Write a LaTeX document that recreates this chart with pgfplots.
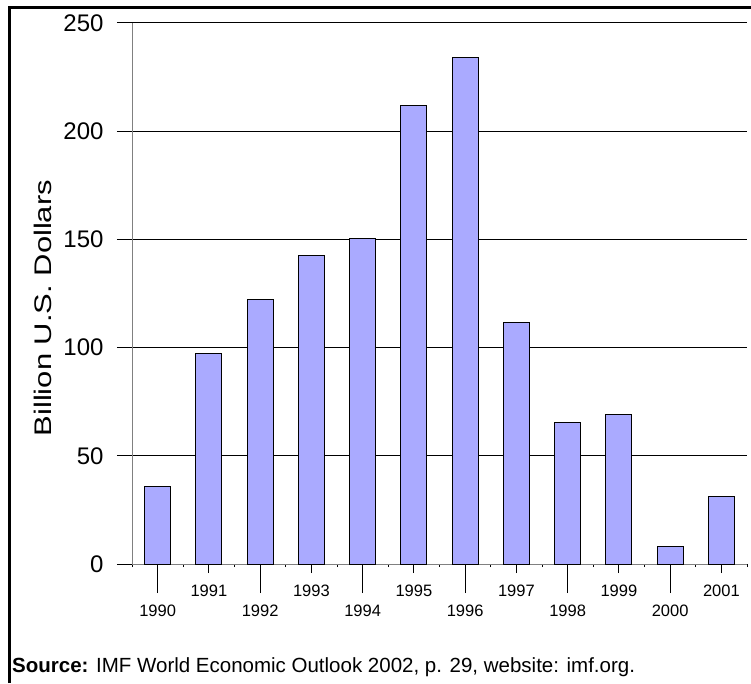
\documentclass[border=0pt]{standalone}
\usepackage{fontspec}
\setmainfont{Liberation Sans}
\usepackage{graphicx}
\usepackage{pgfplots}
\pgfplotsset{compat=1.18}
\definecolor{barblue}{HTML}{AAAAFF}
\definecolor{axgray}{HTML}{808080}
\begin{document}
\begin{tikzpicture}[x=1pt,y=1pt]
\useasboundingbox (0,0) rectangle (751,683);
\draw[line width=3pt] (9.5,0) -- (9.5,675.5) -- (751,675.5);
\begin{axis}[at={(132pt,119pt)}, anchor=south west, scale only axis,
  width=615pt, height=541pt,
  xmin=-0.5, xmax=11.5, ymin=0, ymax=250,
  /pgf/number format/assume math mode=true,
  axis x line*=bottom, axis y line*=left,
  axis line style={-, draw=axgray, line width=1pt},
  ytick={0,50,...,250},
  ymajorgrids, grid style={black, line width=1pt},
  tick align=outside,
  tick style={black, line width=1pt},
  major tick length=15pt,
  yticklabel style={font=\fontsize{24}{28}\selectfont, xshift=-10pt},
  xtick={0,2,4,6,8,10},
  xticklabels={1990,1992,1994,1996,1998,2000},
  xtick style={/pgfplots/major tick length=29pt},
  xticklabel style={font=\fontsize{16.5}{19}\selectfont, anchor=base, yshift=-37pt},
  extra x ticks={1,3,5,7,9,11},
  extra x tick labels={1991,1993,1995,1997,1999,2001},
  extra x tick style={xtick style={/pgfplots/major tick length=9pt}, xticklabel style={yshift=20pt}},
  minor xtick={-0.5,0.5,...,11.5},
  minor tick length=3pt,
  ylabel={\scalebox{1.29}[1]{Billion U.S. Dollars}},
  ylabel style={font=\fontsize{24}{28}\selectfont, at={(axis description cs:-0.1447,0.473)}, anchor=center},
]
\addplot[ybar, bar width=26pt, fill=barblue, draw=black, line width=1pt] coordinates {
(0,36) (1,97.3) (2,122) (3,142.7) (4,150.5) (5,212) (6,234) (7,111.8) (8,65.5) (9,69.3) (10,8) (11,31.2)};
\end{axis}
\node[anchor=base west, font=\fontsize{20.5}{23}\selectfont, inner sep=0pt] at (12,11) {\textbf{Source:} IMF World Economic Outlook 2002, p. 29, website: imf.org.};
\end{tikzpicture}
\end{document}
